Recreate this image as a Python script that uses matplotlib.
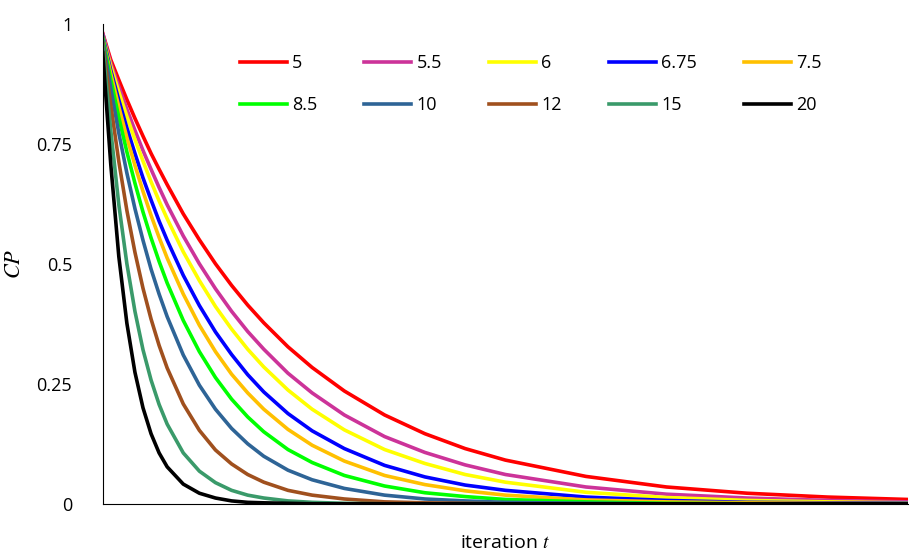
import matplotlib
matplotlib.use("Agg")
import matplotlib.pyplot as plt

plt.rcParams['font.family'] = ['Open Sans', 'DejaVu Sans']
plt.rcParams['mathtext.fontset'] = 'stix'

# iteration samples
t = [0, 1, 2, 3, 4, 5, 6, 7, 8, 10, 12, 14, 16, 18, 20, 23, 26, 30, 35, 40, 45, 50, 60, 70, 80, 90, 100]

labels = ['5', '5.5', '6', '6.75', '7.5', '8.5', '10', '12', '15', '20']
colors = ['#ff0000', '#cc3399', '#ffff00', '#0000ff', '#ffc000',
          '#00ff00', '#2e6496', '#a0501e', '#3a9a6a', '#000000']

cp_5 = [0.98, 0.925, 0.883, 0.842, 0.803, 0.766, 0.730, 0.697, 0.665, 0.604, 0.550, 0.500, 0.455, 0.414, 0.377, 0.327, 0.284, 0.235, 0.185, 0.146, 0.115, 0.091, 0.057, 0.035, 0.022, 0.014, 0.009]
cp_55 = [0.98, 0.918, 0.869, 0.822, 0.778, 0.736, 0.697, 0.659, 0.623, 0.558, 0.500, 0.448, 0.401, 0.359, 0.322, 0.272, 0.231, 0.185, 0.140, 0.107, 0.081, 0.061, 0.035, 0.020, 0.012, 0.007, 0.004]
cp_6 = [0.975, 0.912, 0.858, 0.807, 0.759, 0.714, 0.671, 0.631, 0.594, 0.525, 0.465, 0.411, 0.364, 0.322, 0.285, 0.237, 0.197, 0.154, 0.113, 0.084, 0.061, 0.045, 0.024, 0.013, 0.007, 0.004, 0.002]
cp_675 = [0.975, 0.903, 0.841, 0.783, 0.730, 0.679, 0.633, 0.589, 0.549, 0.476, 0.413, 0.358, 0.311, 0.269, 0.233, 0.188, 0.152, 0.115, 0.080, 0.056, 0.039, 0.028, 0.014, 0.007, 0.003, 0.002, 0.001]
cp_75 = [0.97, 0.896, 0.827, 0.763, 0.705, 0.651, 0.601, 0.555, 0.512, 0.437, 0.372, 0.317, 0.270, 0.231, 0.197, 0.155, 0.122, 0.089, 0.059, 0.040, 0.027, 0.018, 0.008, 0.004, 0.002, 0.001, 0.0]
cp_85 = [0.97, 0.884, 0.805, 0.733, 0.668, 0.608, 0.554, 0.505, 0.460, 0.382, 0.317, 0.263, 0.218, 0.181, 0.150, 0.113, 0.086, 0.059, 0.037, 0.023, 0.015, 0.009, 0.004, 0.001, 0.0, 0.0, 0.0]
cp_10 = [0.965, 0.866, 0.772, 0.689, 0.615, 0.549, 0.489, 0.437, 0.390, 0.310, 0.247, 0.197, 0.157, 0.125, 0.099, 0.070, 0.050, 0.032, 0.018, 0.010, 0.006, 0.003, 0.001, 0.0, 0.0, 0.0, 0.0]
cp_12 = [0.96, 0.831, 0.713, 0.611, 0.524, 0.449, 0.385, 0.330, 0.283, 0.208, 0.153, 0.112, 0.083, 0.061, 0.045, 0.028, 0.018, 0.010, 0.004, 0.002, 0.001, 0.0, 0.0, 0.0, 0.0, 0.0, 0.0]
cp_15 = [0.955, 0.778, 0.623, 0.500, 0.401, 0.321, 0.258, 0.207, 0.166, 0.106, 0.068, 0.044, 0.028, 0.018, 0.012, 0.006, 0.003, 0.001, 0.0, 0.0, 0.0, 0.0, 0.0, 0.0, 0.0, 0.0, 0.0]
cp_20 = [0.94, 0.707, 0.515, 0.376, 0.274, 0.200, 0.146, 0.106, 0.077, 0.041, 0.022, 0.012, 0.006, 0.003, 0.002, 0.001, 0.0, 0.0, 0.0, 0.0, 0.0, 0.0, 0.0, 0.0, 0.0, 0.0, 0.0]

series = [cp_5, cp_55, cp_6, cp_675, cp_75, cp_85, cp_10, cp_12, cp_15, cp_20]

fig = plt.figure(figsize=(9.09, 5.53), dpi=100)
ax = fig.add_axes([0.113, 0.089, 0.886, 0.868])

handles = []
for vals, lab, col in zip(series, labels, colors):
    h, = ax.plot(t, vals, color=col, lw=2.6, label=lab)
    handles.append(h)

ax.set_xlim(0, 100)
ax.set_ylim(0, 1)
ax.set_yticks([0, 0.25, 0.5, 0.75, 1])
ax.set_yticklabels(['0', '0.25', '0.5', '0.75', '1'])
ax.set_xticks([])
ax.tick_params(axis='y', length=0, labelsize=13, pad=22)
for s in ['top', 'right']:
    ax.spines[s].set_visible(False)

ax.set_xlabel('iteration $t$', fontsize=14, labelpad=22)
ax.set_ylabel('$CP$', fontsize=16, labelpad=8)

# legend fills column-first: reorder so it reads row by row
order = [0, 5, 1, 6, 2, 7, 3, 8, 4, 9]
ax.legend([handles[i] for i in order], [labels[i] for i in order],
          ncol=5, loc='upper left', bbox_to_anchor=(0.15, 0.97), frameon=False,
          fontsize=13, handlelength=2.6, columnspacing=2.6, handletextpad=0.3,
          labelspacing=1.3)

fig.savefig('out.png', dpi=100)
